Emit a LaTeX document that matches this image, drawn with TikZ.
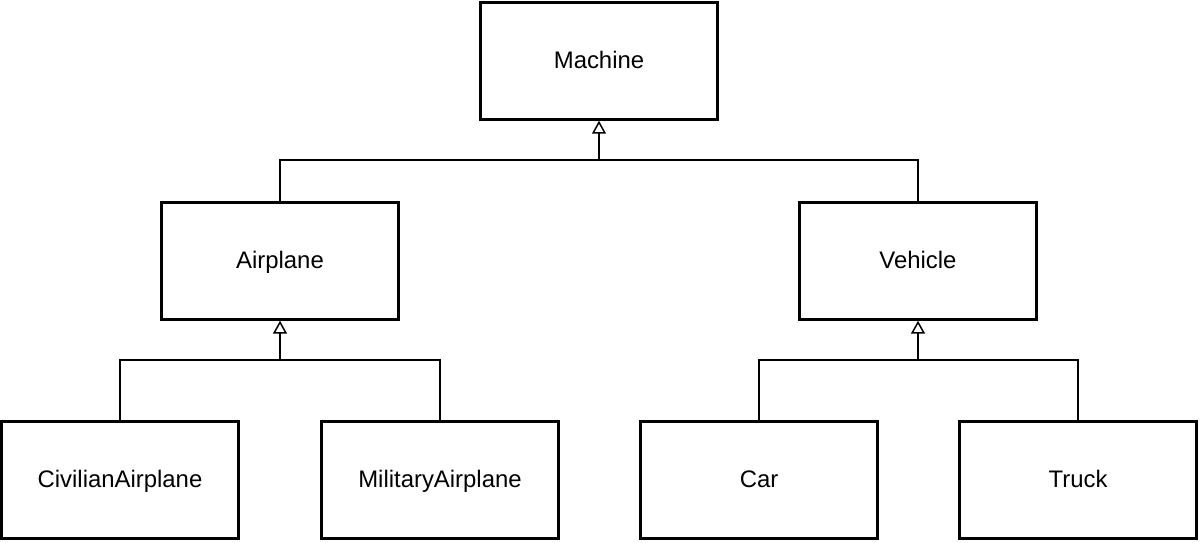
\documentclass[tikz,border=0pt]{standalone}
\usepackage{fontspec}
\setmainfont{Liberation Sans}
\usepackage{tikz}
\usetikzlibrary{arrows.meta,positioning,calc}

\begin{document}
\begin{tikzpicture}[
    classbox/.style={rectangle, draw=black, line width=1.7pt, fill=white, minimum width=4.74cm, minimum height=2.33cm, text height=0.88em, text depth=0em, font=\fontsize{13.6}{16}\selectfont},
    link/.style={draw=black, line width=0.85pt},
    inherit/.style={link, -{Triangle[open, length=0.26cm, width=0.28cm, line width=0.85pt]}}
]
\useasboundingbox (0,0) rectangle (24,10.86);

% Root
\node[classbox] (machine) at (11.98,9.64) {Machine};

% Second level
\node[classbox] (airplane) at (5.6,5.64) {Airplane};
\node[classbox] (vehicle) at (18.36,5.64) {Vehicle};

% Leaves
\node[classbox] (civilian) at (2.4,1.26) {CivilianAirplane};
\node[classbox] (military) at (8.8,1.26) {MilitaryAirplane};
\node[classbox] (car) at (15.18,1.26) {Car};
\node[classbox] (truck) at (21.56,1.26) {Truck};

% Join points
\coordinate (machinejoin) at (11.98,7.66);
\coordinate (airplanejoin) at (5.6,3.66);
\coordinate (vehiclejoin) at (18.36,3.66);

% Generalisations
\draw[link] (airplane.north) |- (machinejoin);
\draw[link] (vehicle.north) |- (machinejoin);
\draw[inherit] (machinejoin) -- (machine.south);

\draw[link] (civilian.north) |- (airplanejoin);
\draw[link] (military.north) |- (airplanejoin);
\draw[inherit] (airplanejoin) -- (airplane.south);

\draw[link] (car.north) |- (vehiclejoin);
\draw[link] (truck.north) |- (vehiclejoin);
\draw[inherit] (vehiclejoin) -- (vehicle.south);

\end{tikzpicture}
\end{document}
